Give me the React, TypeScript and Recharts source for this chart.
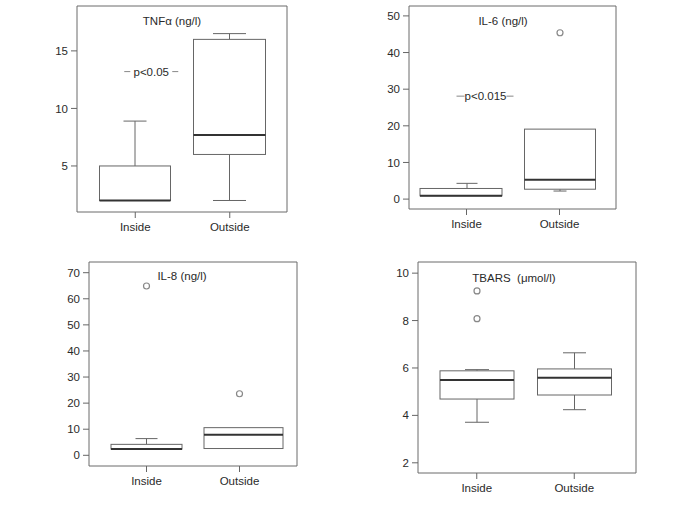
import React from "react";
import { ComposedChart, Bar, XAxis, YAxis, CartesianGrid, ReferenceDot } from "recharts";

const groups = ["Inside", "Outside"];

// box statistics: [min whisker, Q1, median, Q3, max whisker]
const tnfInside = [2.0, 2.0, 2.0, 5.0, 8.9];
const tnfOutside = [2.0, 6.0, 7.7, 16.0, 16.5];
const tnfOutliers = [[], []];
const tnfTicks = [5, 10, 15];

const il6Inside = [0.9, 0.9, 0.9, 2.9, 4.3];
const il6Outside = [2.2, 2.7, 5.3, 19.1, 19.1];
const il6Outliers = [[], [45.4]];
const il6Ticks = [0, 10, 20, 30, 40, 50];

const il8Inside = [2.4, 2.4, 2.4, 4.2, 6.4];
const il8Outside = [2.6, 2.6, 7.9, 10.6, 10.6];
const il8Outliers = [[64.9], [23.6]];
const il8Ticks = [0, 10, 20, 30, 40, 50, 60, 70];

const tbarsInside = [3.71, 4.69, 5.49, 5.88, 5.93];
const tbarsOutside = [4.24, 4.86, 5.59, 5.96, 6.64];
const tbarsOutliers = [[9.25, 8.08], []];
const tbarsTicks = [2, 4, 6, 8, 10];

const tnfPLabel = "p<0.05";
const tnfPY = 13.2;
const il6PLabel = "p<0.015";
const il6PY = 28.1;

const FONT = "'Liberation Sans', Arial, Helvetica, sans-serif";
const TEXT = "#2a2a2a";
const FS = 11.5;

function makeRows(inside: number[], outside: number[], outliers: number[][]) {
  return groups.map((g, i) => {
    const s = i === 0 ? inside : outside;
    return { name: g, range: [s[0], s[4]], stats: s, outliers: outliers[i] };
  });
}

type Cfg = {
  widths: number[];
  offsets: number[];
  caps: number[];
};

function BoxShape(props: any) {
  const { x, y, width, height, payload, index, cfg } = props;
  if (!payload || height == null) return null;
  const s: number[] = payload.stats;
  const lo = s[0];
  const hi = s[4];
  const py = (v: number) => y + ((hi - v) / (hi - lo)) * height;
  const cx = x + width / 2;
  const bw = cfg.widths[index];
  const bx = cx + cfg.offsets[index] - bw / 2;
  const cap = cfg.caps[index];
  const stroke = "#666";
  return (
    <g>
      {s[4] > s[3] && (
        <g>
          <line x1={cx} x2={cx} y1={py(s[3])} y2={py(s[4])} stroke={stroke} strokeWidth={1} />
          <line x1={cx - cap / 2} x2={cx + cap / 2} y1={py(s[4])} y2={py(s[4])} stroke={stroke} strokeWidth={1} />
        </g>
      )}
      {s[0] < s[1] && (
        <g>
          <line x1={cx} x2={cx} y1={py(s[1])} y2={py(s[0])} stroke={stroke} strokeWidth={1} />
          <line x1={cx - cap / 2} x2={cx + cap / 2} y1={py(s[0])} y2={py(s[0])} stroke={stroke} strokeWidth={1} />
        </g>
      )}
      <rect x={bx} y={py(s[3])} width={bw} height={py(s[1]) - py(s[3])} fill="#fff" stroke={stroke} strokeWidth={1} />
      <line x1={bx} x2={bx + bw} y1={py(s[2])} y2={py(s[2])} stroke="#333" strokeWidth={2} />
      {(payload.outliers as number[]).map((o, k) => (
        <circle key={k} cx={cx} cy={py(o)} r={3} fill="none" stroke="#888" strokeWidth={1.2} />
      ))}
    </g>
  );
}

type PanelProps = {
  left: number;
  top: number;
  plotW: number;
  plotH: number;
  domain: [number, number];
  ticks: number[];
  rows: any[];
  cfg: Cfg;
  padding: { left: number; right: number };
  title: string;
  titleX: number;
  titleY: number;
  pLabel?: string;
  pY?: number;
  pLine?: [number, number];
  pText?: number;
};

function Panel(p: PanelProps) {
  const W = p.plotW + 45;
  const H = p.plotH + 35;
  return (
    <div style={{ position: "absolute", left: p.left, top: p.top, width: W, height: H }}>
      <ComposedChart
        width={W}
        height={H}
        data={p.rows}
        margin={{ top: 5, right: 5, left: 0, bottom: 0 }}
        barCategoryGap={0}
      >
        <CartesianGrid
          stroke="#6a6a6a"
          strokeWidth={1}
          horizontalCoordinatesGenerator={(g: any) => [g.offset.top, g.offset.top + g.offset.height]}
          verticalCoordinatesGenerator={(g: any) => [g.offset.left, g.offset.left + g.offset.width]}
        />
        <XAxis
          dataKey="name"
          type="category"
          padding={p.padding}
          axisLine={false}
          tickSize={6}
          tickMargin={5}
          height={30}
          tickLine={{ stroke: "#666" }}
          tick={{ fontSize: FS, fill: TEXT, fontFamily: FONT }}
          interval={0}
        />
        <YAxis
          type="number"
          domain={p.domain}
          ticks={p.ticks}
          allowDataOverflow
          axisLine={false}
          width={40}
          tickSize={6}
          tickMargin={3}
          tickLine={{ stroke: "#666" }}
          tick={{ fontSize: FS, fill: TEXT, fontFamily: FONT }}
        />
        <Bar
          dataKey="range"
          barSize={Math.max(...p.cfg.widths)}
          isAnimationActive={false}
          shape={(sp: any) => <BoxShape {...sp} cfg={p.cfg} />}
        />
        {p.pLabel && (
          <ReferenceDot
            x="Inside"
            y={p.pY as number}
            ifOverflow="visible"
            shape={(dp: any) => {
              const line = p.pLine as [number, number];
              const tc = dp.cx + (p.pText as number);
              return (
                <g>
                  <line x1={dp.cx + line[0]} x2={tc - 21} y1={dp.cy} y2={dp.cy} stroke="#888" strokeWidth={1} />
                  <line x1={tc + 21} x2={dp.cx + line[1]} y1={dp.cy} y2={dp.cy} stroke="#888" strokeWidth={1} />
                  <text
                    x={tc}
                    y={dp.cy}
                    dy="0.35em"
                    textAnchor="middle"
                    fontSize={FS}
                    fill={TEXT}
                    fontFamily={FONT}
                  >
                    {p.pLabel}
                  </text>
                </g>
              );
            }}
          />
        )}
      </ComposedChart>
      <div
        style={{
          position: "absolute",
          left: p.titleX - p.left - 100,
          top: p.titleY - p.top - 7,
          width: 200,
          textAlign: "center",
          fontSize: FS,
          lineHeight: "14px",
          color: TEXT,
          fontFamily: FONT,
          whiteSpace: "pre",
        }}
      >
        {p.title}
      </div>
    </div>
  );
}

export default function App() {
  return (
    <div
      style={{
        position: "absolute",
        left: 0,
        top: 0,
        width: 685,
        height: 513,
        background: "#fff",
        fontFamily: FONT,
      }}
    >
      <Panel
        left={37}
        top={1}
        plotW={210}
        plotH={206}
        domain={[1.0, 18.9]}
        ticks={tnfTicks}
        rows={makeRows(tnfInside, tnfOutside, tnfOutliers)}
        cfg={{ widths: [71, 72], offsets: [0, 0], caps: [23, 33] }}
        padding={{ left: 11, right: 10 }}
        title="TNFα (ng/l)"
        titleX={172}
        titleY={21}
        pLabel={tnfPLabel}
        pY={tnfPY}
        pLine={[-11, 43]}
        pText={16}
      />
      <Panel
        left={369}
        top={1}
        plotW={207}
        plotH={203}
        domain={[-2.7, 52.7]}
        ticks={il6Ticks}
        rows={makeRows(il6Inside, il6Outside, il6Outliers)}
        cfg={{ widths: [82, 71], offsets: [-6, 0], caps: [21, 13] }}
        padding={{ left: 11, right: 10 }}
        title="IL-6 (ng/l)"
        titleX={503}
        titleY={21}
        pLabel={il6PLabel}
        pY={il6PY}
        pLine={[-10, 47]}
        pText={19}
      />
      <Panel
        left={49}
        top={257}
        plotW={208}
        plotH={204}
        domain={[-4.1, 74.1]}
        ticks={il8Ticks}
        rows={makeRows(il8Inside, il8Outside, il8Outliers)}
        cfg={{ widths: [71, 79], offsets: [0, 4], caps: [22, 22] }}
        padding={{ left: 11, right: 11 }}
        title="IL-8 (ng/l)"
        titleX={182}
        titleY={276}
      />
      <Panel
        left={378}
        top={257}
        plotW={218}
        plotH={211}
        domain={[1.57, 10.47]}
        ticks={tbarsTicks}
        rows={makeRows(tbarsInside, tbarsOutside, tbarsOutliers)}
        cfg={{ widths: [74, 74], offsets: [0, 0], caps: [24, 23] }}
        padding={{ left: 10, right: 13 }}
        title={"TBARS  (μmol/l)"}
        titleX={514}
        titleY={278}
      />
    </div>
  );
}
